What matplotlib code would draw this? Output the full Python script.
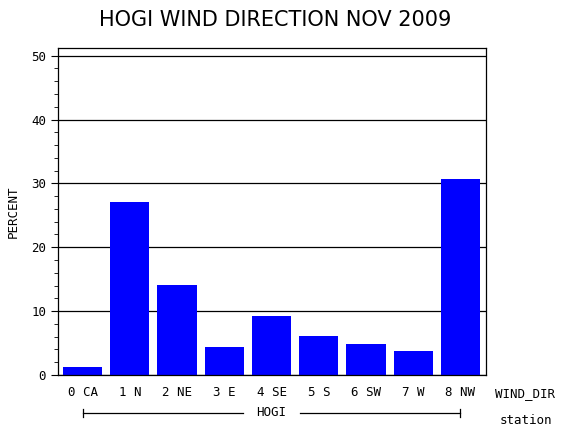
import matplotlib
matplotlib.use("Agg")
import matplotlib.pyplot as plt
from matplotlib.ticker import MultipleLocator

categories = ["0 CA", "1 N", "2 NE", "3 E", "4 SE", "5 S", "6 SW", "7 W", "8 NW"]
percent = [1.25, 27.1, 14.1, 4.4, 9.2, 6.1, 4.9, 3.8, 30.7]
yticks = [0, 10, 20, 30, 40, 50]

mono = "DejaVu Sans Mono"
fig = plt.figure(figsize=(5.7, 4.3), dpi=100)
ax = fig.add_axes([58/570, 1-375/430, (486-58)/570, (375-48)/430])
x = list(range(len(categories)))
ax.bar(x, percent, width=0.83, color="#0000ff", zorder=2)
ax.set_xlim(-0.52, 8.54)
ax.set_ylim(0, 51.2)
ax.set_yticks(yticks)
ax.yaxis.set_minor_locator(MultipleLocator(2))
ax.yaxis.grid(True, color="black", linewidth=0.9, zorder=1)
ax.set_axisbelow(True)
ax.set_xticks(x)
ax.set_xticklabels(categories, family=mono, fontsize=9)
ax.tick_params(axis="x", length=0, pad=8)
ax.tick_params(axis="y", labelsize=9, direction="out", length=5)
ax.tick_params(axis="y", which="minor", length=3)
for l in ax.get_yticklabels():
    l.set_family(mono)
ax.set_ylabel("PERCENT", family=mono, fontsize=9, labelpad=8)
for s in ax.spines.values():
    s.set_linewidth(0.9)

fig.text(275/570, 1-20/430, "HOGI WIND DIRECTION NOV 2009", ha="center", va="center", fontsize=15)
fig.text(495/570, 1-394/430, "WIND_DIR", family=mono, fontsize=9, ha="left", va="center")
fig.text(500/570, 1-420/430, "station", family=mono, fontsize=9, ha="left", va="center")

# group bracket
ax.annotate("", xy=(0, -0.11), xycoords=("data", "axes fraction"))
yb = -(413-375)/327
ax.plot([0, 3.4], [yb, yb], transform=ax.get_xaxis_transform(), color="black", lw=0.9, clip_on=False)
ax.plot([4.6, 8], [yb, yb], transform=ax.get_xaxis_transform(), color="black", lw=0.9, clip_on=False)
for xe in (0, 8):
    ax.plot([xe, xe], [yb-0.012, yb+0.012], transform=ax.get_xaxis_transform(), color="black", lw=0.9, clip_on=False)
ax.text(4, yb, "HOGI", transform=ax.get_xaxis_transform(), ha="center", va="center", family=mono, fontsize=9)

fig.savefig("out.png", dpi=100)
